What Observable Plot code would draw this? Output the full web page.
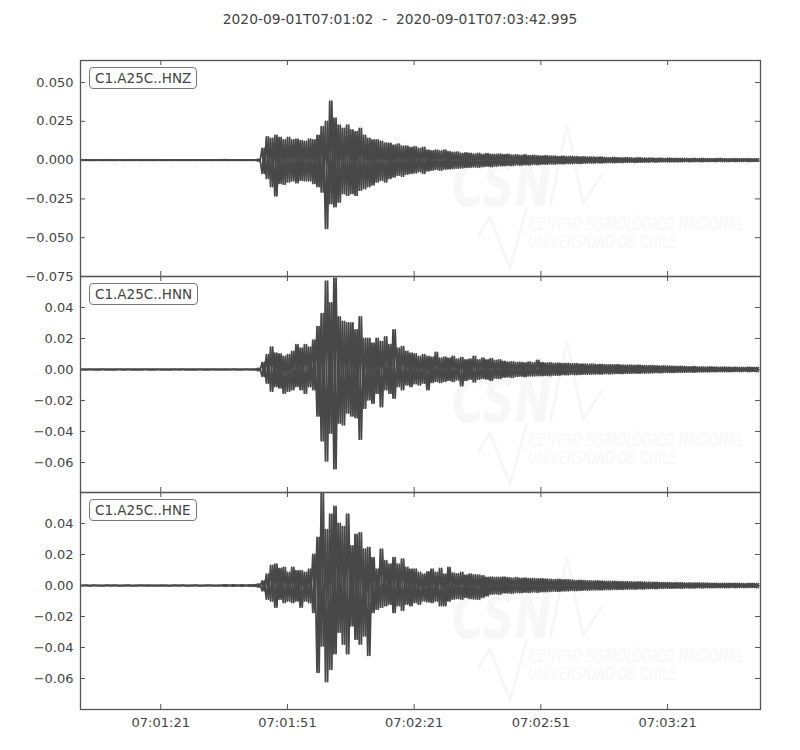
<!DOCTYPE html>
<html>
<head>
<meta charset="utf-8">
<script src="https://cdn.jsdelivr.net/npm/d3@7"></script>
<script src="https://cdn.jsdelivr.net/npm/@observablehq/plot@0.6"></script>
<style>
  body { margin: 0; background: #fff; font-family: "DejaVu Sans", sans-serif; }
  #chart { position: relative; width: 800px; height: 750px; overflow: hidden; }
  #title { position: absolute; top: 11px; left: 0; width: 800px; text-align: center;
           font-size: 13.8px; color: #444; white-space: pre; }
  .panel { position: absolute; left: 0; z-index: 1; }
  .tag { position: absolute; left: 89px; z-index: 2; background: #fff; color: #444;
         font-size: 13.5px; line-height: 20px; padding: 0 5px; border: 1px solid #777; border-radius: 4px; }
  .wm { position: absolute; left: 0; z-index: 0; }
</style>
</head>
<body>
<div id="chart">
  <div id="title"></div>
</div>
<script>
// trace labels and title
const title = "2020-09-01T07:01:02  -  2020-09-01T07:03:42.995";
const traceNames = ["C1.A25C..HNZ", "C1.A25C..HNN", "C1.A25C..HNE"];
const xTickLabels = ["07:01:21", "07:01:51", "07:02:21", "07:02:51", "07:03:21"];

// envelope, one value per second from 07:01:02 (units of 1e-3)
const hnzUp = [
  0.2,0.25,0.2,0.2,0.25,0.2,0.25,0.2,0.2,0.25, 0.2,0.25,0.2,0.25,0.2,0.2,0.25,0.2,0.25,0.2,
  0.2,0.15,0.15,0.2,0.15,0.2,0.15,0.15,0.2,0.15, 0.15,0.2,0.15,0.15,0.3,0.15,0.15,0.2,0.15,0.15,
  0.2,0.15,0.6,7.5,15,14,16,14.6,13,14.6, 13,13.5,12.5,12,13.5,13,16,21.5,25,38,
  27,22.6,20.5,22.6,19.4,18.3,20.5,16,14,13, 13,12,11,10.8,9.7,10.3,9,9,8.2,8.6,
  7.5,8.2,6.5,6,6.5,6,6.5,5.4,5,5.2, 4.3,4.7,4.3,3.9,4.3,3.7,4.1,3.7,3.7,3.9,
  3.5,3.7,3.2,3.4,3.0,3.3,2.9,3.1,2.7,2.6, 2.8,2.5,2.6,2.3,2.5,2.2,2.4,2.2,2.0,2.1,
  1.9,2.0,1.8,1.9,1.6,1.5,1.7,1.5,1.4,1.6, 1.4,1.3,1.5,1.3,1.2,1.3,1.1,1.2,1.1,1.2,
  1.1,1.0,1.1,1.0,0.9,1.0,0.9,1.0,0.9,0.9, 0.9,1.0,0.9,0.8,0.9,0.9,0.8,0.9,0.9,0.8,
  0.9
];
const hnzLo = [
  -0.2,-0.2,-0.25,-0.2,-0.2,-0.25,-0.2,-0.2,-0.25,-0.2, -0.25,-0.2,-0.2,-0.2,-0.25,-0.2,-0.2,-0.25,-0.2,-0.2,
  -0.15,-0.2,-0.15,-0.15,-0.2,-0.15,-0.15,-0.2,-0.15,-0.15, -0.2,-0.15,-0.15,-0.2,-0.15,-0.15,-0.2,-0.15,-0.15,-0.2,
  -0.15,-0.2,-0.6,-8.6,-11.8,-17,-23,-15,-15.5,-14, -13.3,-14.6,-13,-13.3,-13.3,-15,-17,-20.5,-44,-28,
  -30,-27,-21.5,-22.6,-21.5,-22.6,-19.4,-18.3,-17,-16, -14,-13,-14,-11.8,-10.8,-9.7,-10.3,-9,-8.6,-8.2,
  -7.5,-8.6,-6.9,-6.5,-6,-6.5,-5.8,-5.6,-5.4,-5.2, -5,-4.7,-4.5,-4.3,-4.5,-4.1,-3.9,-4.2,-3.8,-3.6,
  -3.5,-3.4,-3.5,-3.1,-3.2,-2.9,-3.0,-2.7,-2.8,-2.5, -2.6,-2.4,-2.5,-2.2,-2.3,-2.1,-2.2,-2.0,-2.1,-1.9,
  -1.8,-1.9,-1.7,-1.8,-1.6,-1.5,-1.6,-1.4,-1.5,-1.4, -1.3,-1.4,-1.3,-1.2,-1.3,-1.1,-1.2,-1.1,-1.0,-1.1,
  -1.0,-1.1,-1.0,-0.9,-1.0,-0.9,-0.9,-1.0,-0.9,-0.8, -0.9,-0.8,-0.9,-0.9,-0.8,-0.9,-0.8,-0.8,-0.9,-0.8,
  -0.8
];
const hnnUp = [
  0.2,0.2,0.3,0.2,0.2,0.3,0.2,0.2,0.2,0.3, 0.2,0.3,0.2,0.2,0.2,0.3,0.2,0.2,0.3,0.2,
  0.2,0.2,0.3,0.2,0.3,0.2,0.2,0.2,0.3,0.2, 0.2,0.3,0.2,0.2,0.3,0.2,0.3,0.2,0.2,0.3,
  0.2,0.3,0.8,4.5,9.5,14.4,10.5,10,8.4,9.5, 11.6,16,13.8,16,14.4,19,27.7,36,57,43,
  59,34,31,30,30,25.6,34,20,20,17, 20,18,21,16,25.6,13.8,14.8,11.6,10.5,10,
  8.4,9.5,8.4,8,11,7.3,8,7.3,8.4,6.7, 7.7,6.2,6.7,8.4,6.2,7.3,6.2,7,5.8,6.2,
  5.2,4.7,4.9,4.4,4.6,4.3,4.8,4.2,5.8,4.4, 4.1,4.3,3.9,4.0,3.7,3.9,3.6,3.7,3.4,3.5,
  3.3,3.4,3.1,3.2,3.0,3.0,2.9,3.0,2.8,2.7, 2.8,2.6,2.7,2.5,2.4,2.5,2.3,2.2,2.3,2.1,
  2.0,1.9,2.0,1.8,1.7,1.8,1.6,1.6,1.5,1.6, 1.5,1.4,1.5,1.4,1.3,1.4,1.3,1.3,1.4,1.3,
  1.3
];
const hnnLo = [
  -0.2,-0.3,-0.2,-0.2,-0.3,-0.2,-0.2,-0.3,-0.2,-0.2, -0.3,-0.2,-0.2,-0.3,-0.2,-0.2,-0.2,-0.3,-0.2,-0.2,
  -0.2,-0.3,-0.2,-0.2,-0.2,-0.3,-0.2,-0.3,-0.2,-0.2, -0.3,-0.2,-0.2,-0.2,-0.3,-0.2,-0.2,-0.3,-0.2,-0.2,
  -0.2,-0.3,-0.8,-4.5,-8.8,-14,-11,-12,-15.3,-14, -13,-11,-13,-15.3,-11,-13,-30,-46,-59,-41,
  -64,-34.6,-35.7,-28,-30,-31,-45,-25,-19.6,-21.7, -15.3,-24,-13,-15.3,-18.5,-11,-13,-10,-11,-9.2,
  -10,-8.8,-13,-8.4,-7.7,-8.4,-7.7,-7,-7.7,-6.7, -10.5,-7,-6.2,-8,-6.2,-5.8,-6.2,-7,-5.6,-5.8,
  -5,-4.8,-5.1,-4.5,-4.3,-4.6,-4.1,-4.2,-3.9,-4.0, -3.8,-3.9,-3.6,-3.7,-3.3,-3.4,-3.2,-3.3,-3.1,-3.0,
  -3.0,-2.9,-2.8,-2.9,-2.7,-2.8,-2.6,-2.5,-2.6,-2.4, -2.4,-2.3,-2.4,-2.2,-2.2,-2.1,-2.0,-2.1,-1.9,-1.9,
  -1.9,-1.8,-1.8,-1.7,-1.6,-1.7,-1.5,-1.5,-1.5,-1.4, -1.4,-1.3,-1.4,-1.3,-1.3,-1.2,-1.3,-1.2,-1.3,-1.2,
  -1.3
];
const hneUp = [
  0.15,0.2,0.15,0.2,0.15,0.15,0.2,0.15,0.2,0.15, 0.15,0.2,0.15,0.15,0.2,0.15,0.2,0.15,0.15,0.2,
  0.15,0.15,0.2,0.15,0.2,0.15,0.15,0.2,0.15,0.15, 0.2,0.15,0.15,0.3,0.4,0.3,0.4,0.3,0.4,0.3,
  0.4,0.5,1.0,3,7.3,13,13.8,11,11.6,8.4, 11.6,9.5,9.5,8.4,10.5,20,31,59.5,36,46,
  51,40,38,46,25.6,33,34,23.4,24.5,18, 10.5,23.4,16,13.8,18,13.8,17,11.6,10.5,10.5,
  8.4,7.3,8.8,10.5,8.4,11,7.3,11.6,8,7.5, 8.4,6.7,7.3,6.9,6.7,6.2,5.2,5.4,5.2,5.2,
  5.4,5.0,4.8,5.1,4.6,4.7,4.4,4.5,4.2,4.3, 4.1,4.0,3.8,3.9,3.6,3.7,3.4,3.2,3.3,3.1,
  3.0,2.9,3.0,2.8,2.7,2.6,2.7,2.5,2.4,2.5, 2.3,2.2,2.3,2.2,2.1,2.0,2.0,1.9,1.9,1.8,
  1.7,1.8,1.7,1.6,1.6,1.5,1.6,1.5,1.5,1.4, 1.4,1.3,1.4,1.3,1.3,1.4,1.3,1.2,1.3,1.3,
  1.2
];
const hneLo = [
  -0.15,-0.15,-0.2,-0.15,-0.15,-0.2,-0.15,-0.15,-0.15,-0.2, -0.15,-0.15,-0.2,-0.15,-0.15,-0.15,-0.2,-0.15,-0.15,-0.2,
  -0.15,-0.2,-0.15,-0.15,-0.15,-0.2,-0.15,-0.15,-0.2,-0.15, -0.15,-0.15,-0.2,-0.3,-0.4,-0.3,-0.4,-0.3,-0.4,-0.3,
  -0.4,-0.5,-1.0,-3.4,-8.8,-10,-14,-8.8,-11,-10, -11,-10,-14,-10,-11,-17.4,-56,-39,-62,-54,
  -44,-30,-37.8,-44,-26,-34.6,-37.8,-32.5,-45,-17.4, -15.3,-14,-13,-12,-17.4,-13,-16,-12,-13,-11,
  -12,-10,-10.5,-11,-10,-13,-13,-10,-8.8,-8.4, -8.8,-7.7,-8.4,-8.6,-8.8,-7.7,-6.7,-5.6,-5.4,-5.6,
  -4.8,-4.7,-5.0,-4.5,-4.6,-4.3,-4.4,-4.1,-4.3,-4.0, -3.9,-3.8,-3.6,-3.7,-3.4,-3.5,-3.2,-3.3,-3.1,-3.0,
  -2.9,-2.8,-2.7,-2.8,-2.6,-2.6,-2.5,-2.4,-2.5,-2.3, -2.2,-2.3,-2.1,-2.2,-2.0,-1.9,-2.0,-1.8,-1.8,-1.7,
  -1.7,-1.6,-1.7,-1.5,-1.6,-1.5,-1.4,-1.5,-1.4,-1.4, -1.3,-1.4,-1.3,-1.3,-1.2,-1.3,-1.2,-1.3,-1.2,-1.2,
  -1.3
];

// y ticks per panel
const hnzTicks = [-0.075, -0.05, -0.025, 0, 0.025, 0.05];
const hnnTicks = [-0.06, -0.04, -0.02, 0, 0.02, 0.04];
const hneTicks = [-0.06, -0.04, -0.02, 0, 0.02, 0.04];

const start = new Date("2020-09-01T07:01:02Z");
const end = new Date("2020-09-01T07:03:42.995Z");
const xTicks = xTickLabels.map(s => new Date("2020-09-01T" + s + "Z"));

// zigzag between the upper and lower envelope, half a second apart;
// phase 1 starts high, phase 0 starts low, the two cross to fill the band
function trace(up, lo, phase) {
  const pts = [];
  up.forEach((u, i) => {
    const a = phase ? u : lo[i], b = phase ? lo[i] : u;
    pts.push({ date: new Date(+start + i * 1000), v: a / 1000 });
    pts.push({ date: new Date(+start + i * 1000 + 500), v: b / 1000 });
  });
  return pts;
}

const chart = document.getElementById("chart");
document.getElementById("title").textContent = title;

const panels = [
  { name: traceNames[0], up: hnzUp, lo: hnzLo, domain: [-0.075, 0.0642], ticks: hnzTicks, fmt: d3.format(".3f"), top: 60, h: 216 },
  { name: traceNames[1], up: hnnUp, lo: hnnLo, domain: [-0.0794, 0.060], ticks: hnnTicks, fmt: d3.format(".2f"), top: 276, h: 216 },
  { name: traceNames[2], up: hneUp, lo: hneLo, domain: [-0.080, 0.060], ticks: hneTicks, fmt: d3.format(".2f"), top: 492, h: 217 }
];

const ink = "#484848";

panels.forEach((p, i) => {
  const last = i === panels.length - 1;
  const mb = last ? 41 : 10;
  const tick = 5;
  const frameW = 800 - 80 - 40;

  // faint CSN watermark behind the trace
  const wm = document.createElementNS("http://www.w3.org/2000/svg", "svg");
  wm.setAttribute("class", "wm");
  wm.setAttribute("width", 800);
  wm.setAttribute("height", 300);
  wm.style.top = (p.top - 60) + "px";
  wm.innerHTML = `
    <g fill="#f7f7f7" stroke="none" font-family="DejaVu Sans" font-style="italic">
      <text transform="translate(452,206) scale(1,1.4)" font-size="44" font-weight="bold">CSN</text>
      <text transform="translate(530,230) scale(1,1.35)" font-size="12.5">CENTRO SISMOLÓGICO NACIONAL</text>
      <text transform="translate(528,248) scale(1,1.35)" font-size="12.5">UNIVERSIDAD DE CHILE</text>
    </g>
    <g fill="none" stroke="#f6f6f6" stroke-width="2.5">
      <polyline points="550,207 567,125 583,203 603,173"/>
      <polyline points="478,237 490,217 510,268 527,207"/>
    </g>`;
  chart.appendChild(wm);

  const plot = Plot.plot({
    width: 800,
    height: p.h + 10 + mb,
    marginLeft: 80,
    marginRight: 40,
    marginTop: 10,
    marginBottom: mb,
    style: {
      background: "transparent",
      overflow: "visible",
      fontFamily: "DejaVu Sans, sans-serif",
      fontSize: "13px",
      color: "#444"
    },
    x: last
      ? { type: "utc", domain: [start, end], ticks: xTicks, tickSize: 0, tickPadding: 8,
          tickFormat: d3.utcFormat("%H:%M:%S"), label: null }
      : { type: "utc", domain: [start, end], axis: null },
    y: { domain: p.domain, ticks: p.ticks, tickSize: 0, tickPadding: 7, tickFormat: p.fmt, label: null },
    marks: [
      Plot.line(trace(p.up, p.lo, 1), { x: "date", y: "v", stroke: ink, strokeWidth: 1.8, clip: true }),
      Plot.line(trace(p.up, p.lo, 0), { x: "date", y: "v", stroke: ink, strokeWidth: 1.8, clip: true }),
      // inward ticks on all four sides
      Plot.ruleY(p.ticks, { stroke: "#555", insetRight: frameW - tick }),
      Plot.ruleY(p.ticks, { stroke: "#555", insetLeft: frameW - tick }),
      Plot.ruleX(xTicks, { stroke: "#555", insetBottom: p.h - tick }),
      Plot.ruleX(xTicks, { stroke: "#555", insetTop: p.h - tick }),
      Plot.frame({ stroke: "#555", strokeWidth: 1.3 })
    ]
  });
  plot.classList.add("panel");
  plot.style.top = (p.top - 10) + "px";
  chart.appendChild(plot);

  const tag = document.createElement("div");
  tag.className = "tag";
  tag.style.top = (p.top + 7) + "px";
  tag.textContent = p.name;
  chart.appendChild(tag);
});
</script>
</body>
</html>
